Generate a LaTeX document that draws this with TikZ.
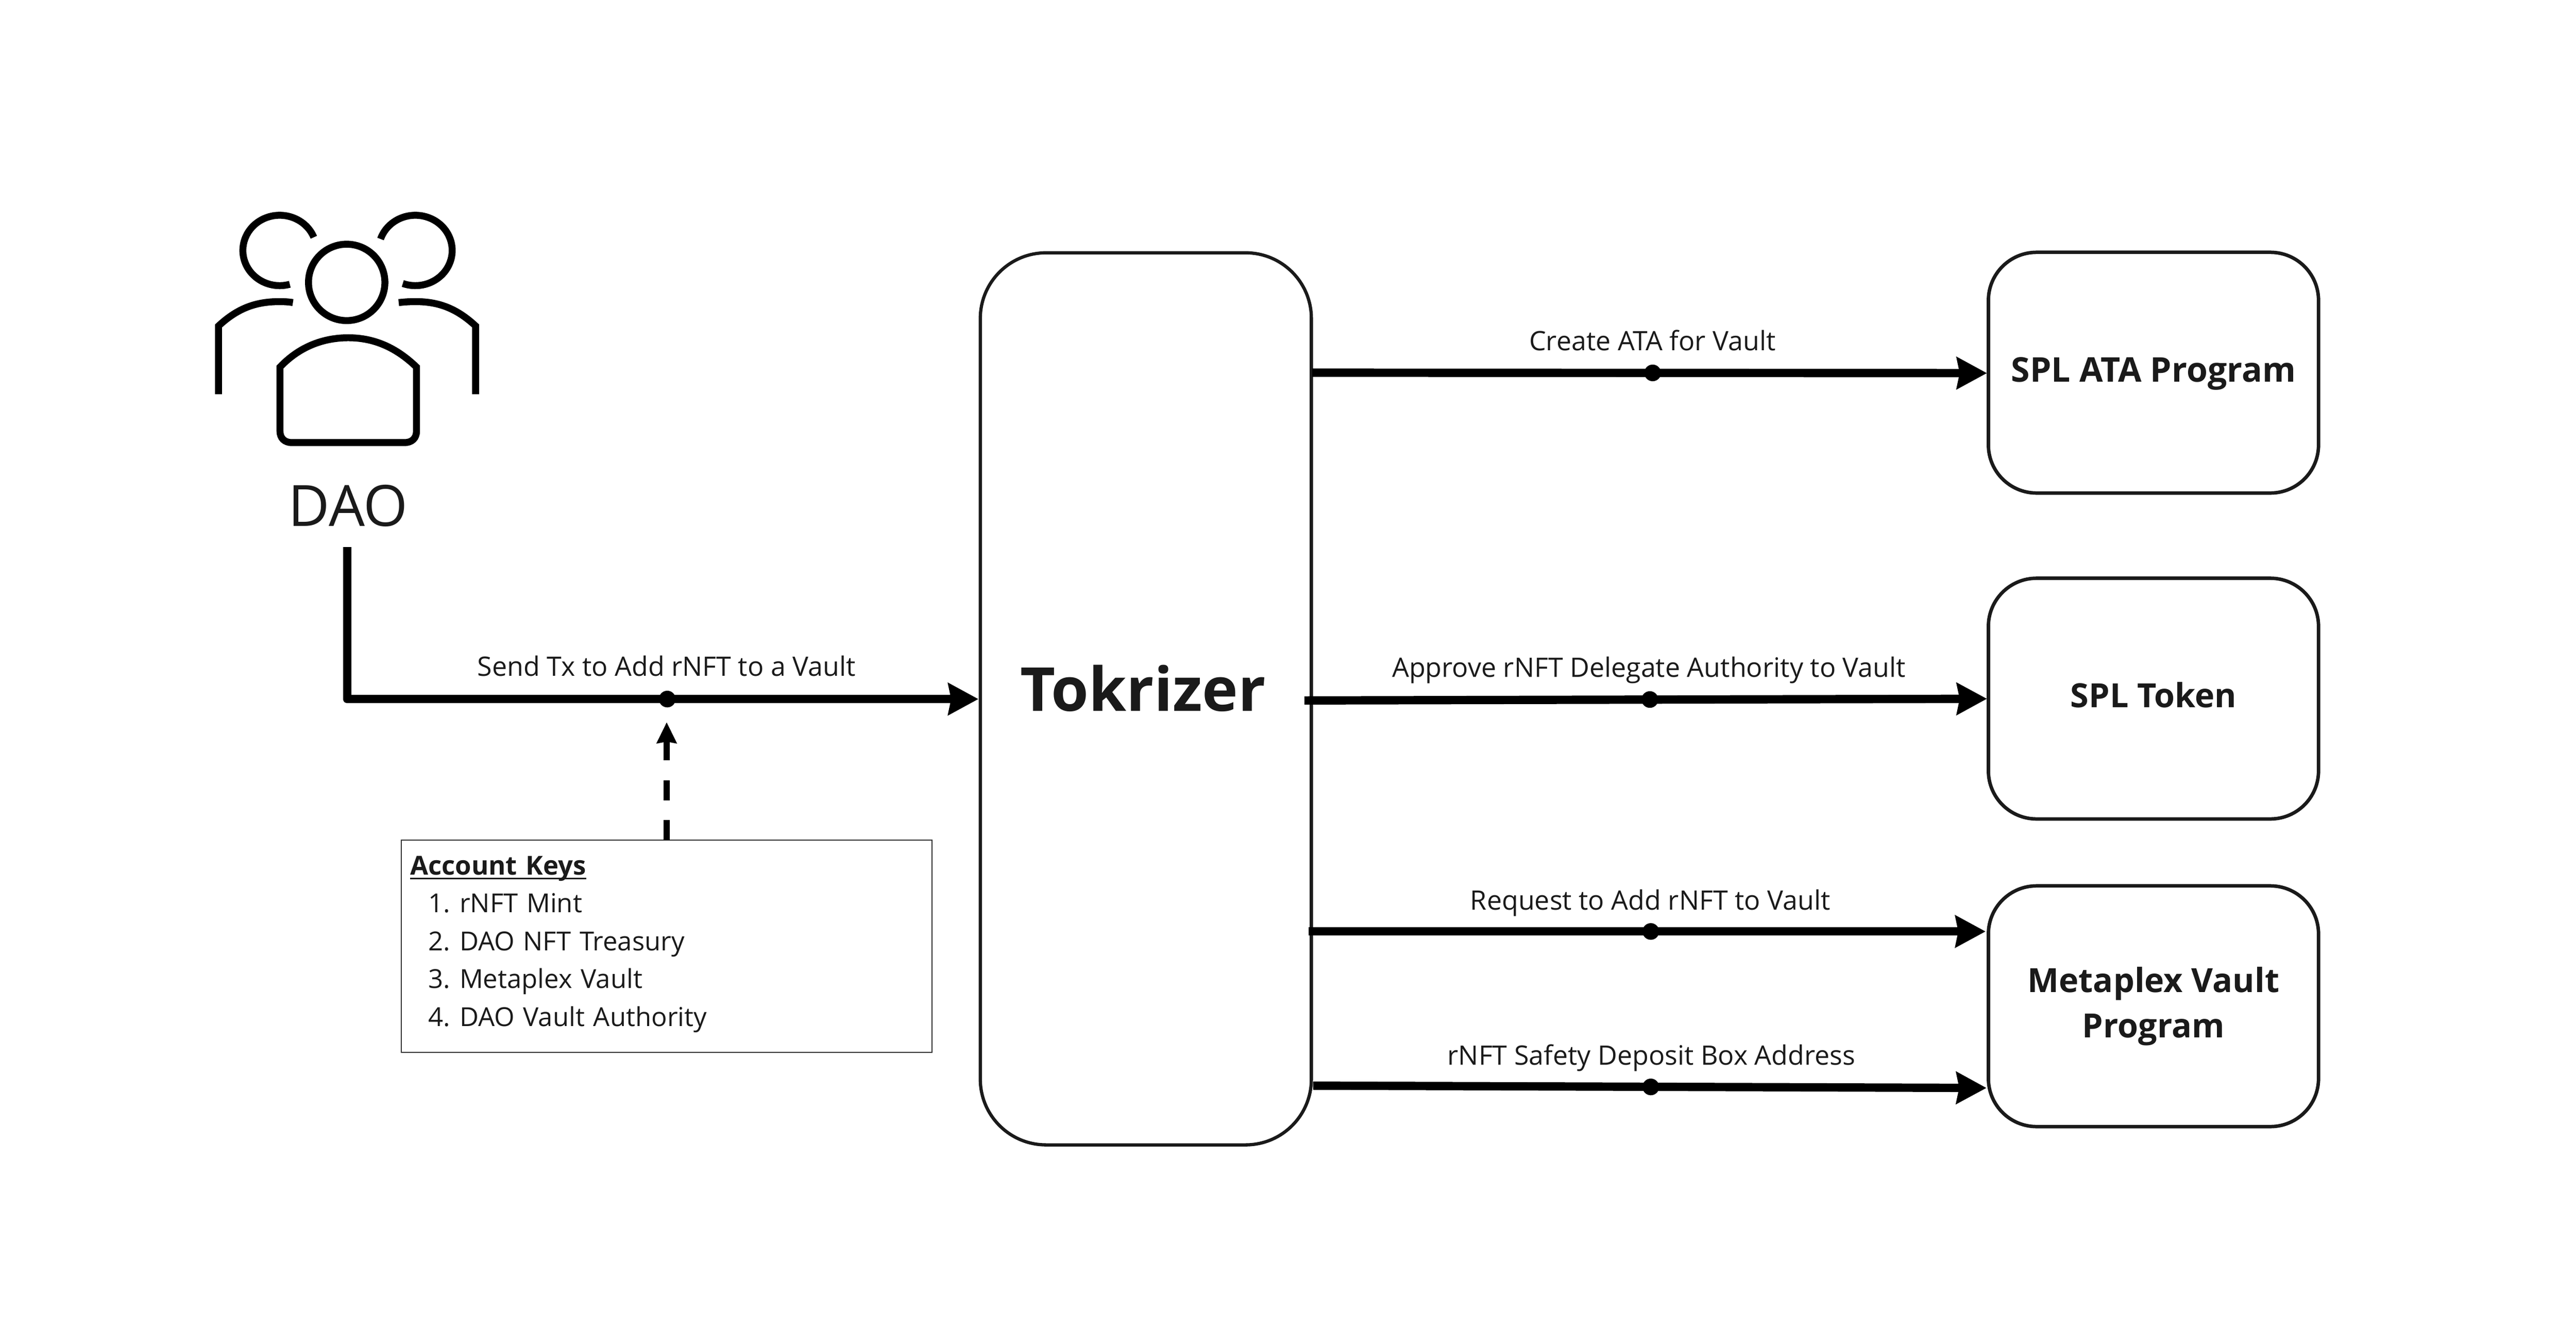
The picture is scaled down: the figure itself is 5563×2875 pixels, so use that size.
\documentclass[tikz,border=0pt]{standalone}
\usepackage{fontspec}
\setmainfont{Open Sans}
\newfontfamily\labelfont[Kerning=Off]{Open Sans}
\usetikzlibrary{arrows.meta}
\definecolor{ink}{HTML}{1A1A1A}
\definecolor{thinbox}{HTML}{333333}
\newcommand{\keyhead}[1]{\setbox0\hbox{\textbf{#1}}\rlap{\rule[-1.0pt]{\wd0}{0.4pt}}\box0}
\newcommand{\keyitem}[2]{\hspace*{3.9pt}\makebox[6.75pt][l]{#1}#2}
\tikzset{
  bigbox/.style={draw=ink,line width=0.7pt,rounded corners=14.2pt,inner sep=0pt,outer sep=0pt,
    minimum width=71.5pt,minimum height=192.7pt,text=ink,font=\fontsize{13.1}{15}\selectfont\bfseries},
  progbox/.style={draw=ink,line width=0.75pt,rounded corners=10.4pt,inner sep=0pt,outer sep=0pt,
    minimum width=71.3pt,minimum height=52pt,text=ink,align=center,font=\fontsize{7.2}{9.8}\labelfont\bfseries},
  keybox/.style={draw=thinbox,line width=0.25pt,inner xsep=1.9pt,inner ysep=0pt,outer sep=0pt,
    minimum width=114.55pt,minimum height=45.85pt,text width=110.75pt,align=left,text=ink,
    font=\fontsize{5.65}{8.17}\labelfont},
  flow/.style={line width=1.8pt,-{Stealth[length=6.5pt,width=6.8pt,inset=.6pt]}},
  keyflow/.style={line width=1.25pt,dash pattern=on 4.3pt off 4.3pt,
    -{Stealth[length=4.5pt,width=4.2pt,inset=.3pt]},shorten >=3.2pt},
  flowdot/.style={circle,fill=black,inner sep=0pt,outer sep=0pt,minimum size=3.6pt},
  flowlabel/.style={anchor=base,inner sep=0pt,outer sep=0pt,text=ink,font=\fontsize{5.78}{8}\labelfont},
  icon/.style={line width=1.5pt,black}
}
\begin{document}
\begin{tikzpicture}[x=0.1pt,y=-0.1pt]
\useasboundingbox (0,0) rectangle (5563,2875);
\fill[white] (0,0) rectangle (5563,2875);

% people icon
\draw[icon] ([shift={(22:7.95pt and 7.6pt)}]604,541) arc[start angle=22,end angle=286,x radius=7.95pt,y radius=7.6pt];
\draw[icon] ([shift={(161:7.95pt and 7.6pt)}]897,541) arc[start angle=161,end angle=-110,x radius=7.95pt,y radius=7.6pt];
\draw[icon] (748.7,610) circle[radius=8.25pt];
\draw[icon] (472,851.5) -- (472,704) .. controls (515,664) and (555,651.5) .. (604,651.5) .. controls (613,651.5) and (623,652) .. (632.6,653.6);
\draw[icon] (1027,851.5) -- (1027,704) .. controls (984,664) and (944,651.5) .. (897,651.5) .. controls (886,651.5) and (876,652) .. (861,653.6);
\draw[icon] (604.6,793) -- (604.6,931) .. controls (604.6,947) and (615,956) .. (630,956) -- (874,956) .. controls (889,956) and (899.5,947) .. (899.5,931) -- (899.5,793) .. controls (850,745) and (800,729.6) .. (752,729.6) .. controls (704,729.6) and (650,745) .. (604.6,793) -- cycle;

\node[anchor=base,inner sep=0pt,outer sep=0pt,text=ink,font=\fontsize{12.3}{14}\selectfont] (dao) at (749.5,1137) {\kern.5pt DAO};

% boxes
\node[bigbox,text height=5.3pt,text depth=0pt] (tok) at (2474.5,1509.5) {Tokrizer\kern1.2pt};
\node[progbox,text height=3.95pt,text depth=0pt] (ata) at (4650.5,805) {\fontsize{7.36}{9.8}\selectfont SPL ATA Program};
\node[progbox,text height=3.8pt,text depth=0pt] (splt) at (4650.5,1509) {SPL Token};
\node[progbox] (meta) at (4650.5,2173.5) {\rule[-3.3pt]{0pt}{3.3pt}\rule{0pt}{7pt}Metaplex Vault\\Program\rule[-3.3pt]{0pt}{3.3pt}};
\node[keybox] (keys) at (1439.75,2043.75) {\rule{0pt}{5.85pt}\keyhead{Account Keys}\\
\keyitem{1.}{rNFT Mint}\\
\keyitem{2.}{DAO NFT Treasury}\\
\keyitem{3.}{Metaplex Vault}\\
\keyitem{4.}{DAO Vault Authority}\rule[-4pt]{0pt}{4pt}};

% dots
\node[flowdot] (d0) at (1441,1510) {};
\node[flowdot] (d1) at (3569,805.5) {};
\node[flowdot] (d2) at (3563,1511) {};
\node[flowdot] (d3) at (3565,2012) {};
\node[flowdot] (d4) at (3565,2347.8) {};

% connectors
\draw[flow,line join=round,shorten <=4.36pt] (dao.south) |- ([shift={(-4,.5)}]tok.west);
\draw[keyflow] (keys.north) -- (keys.north |- d0.south);
\draw[flow] ([shift={(2,-704.5)}]tok.east) -- ([shift={(-3,1)}]ata.west);
\draw[flow] ([shift={(-15,3.5)}]tok.east) -- ([shift={(-3,.4)}]splt.west);
\draw[flow] ([shift={(-6.5,502.5)}]tok.east) -- ([shift={(-6,-161.5)}]meta.west);
\draw[flow] ([shift={(4,835.5)}]tok.east) -- ([shift={(-4,176.5)}]meta.west);

% labels
\node[flowlabel] (l0) at (1439.5,1460.6) {Send Tx to Add rNFT to a Vault};
\node[flowlabel] (l1) at (3568.5,757) {Create ATA for Vault};
\node[flowlabel] (l2) at (3561,1463) {Approve rNFT Delegate Authority to Vault};
\node[flowlabel] (l3) at (3564,1965) {Request to Add rNFT to Vault};
\node[flowlabel] (l4) at (3566.5,2300) {rNFT Safety Deposit Box Address};
\end{tikzpicture}
\end{document}
